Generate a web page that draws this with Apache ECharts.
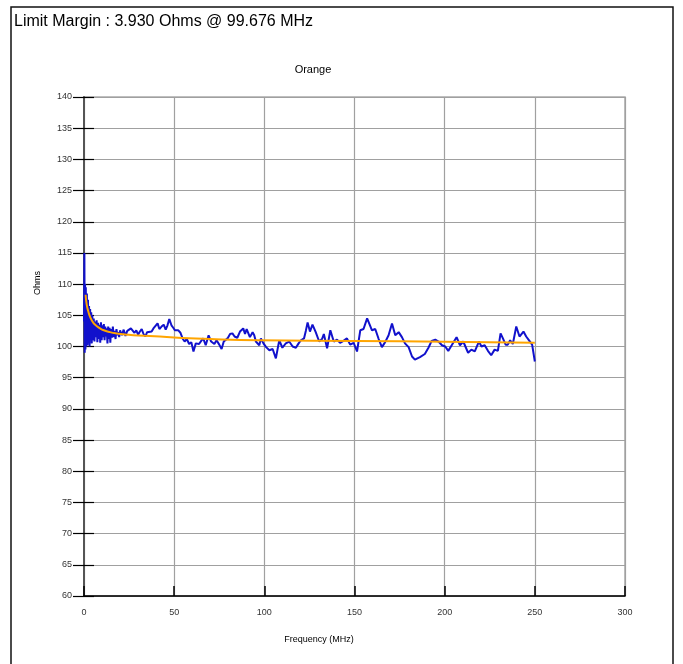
<!DOCTYPE html>
<html>
<head>
<meta charset="utf-8">
<script src="https://cdn.jsdelivr.net/npm/echarts@6/dist/echarts.min.js"></script>
<style>
html,body{margin:0;padding:0;background:#fff;}
#chart{width:683px;height:664px;}
</style>
</head>
<body>
<div id="chart"></div>
<script>
// ---- data ----
var titleText = 'Limit Margin : 3.930 Ohms @ 99.676 MHz';
var subTitle = 'Orange';
var xName = 'Frequency (MHz)';
var yName = 'Ohms';
var xTicks = [0, 50, 100, 150, 200, 250, 300];
var yTicks = [60, 65, 70, 75, 80, 85, 90, 95, 100, 105, 110, 115, 120, 125, 130, 135, 140];

var measFreq = [0.0,0.2,0.4,0.6,0.8,1.0,1.3,1.6,1.9,2.2,2.5,2.8,3.1,3.4,3.7,4.0,4.3,4.6,5.0,5.4,5.8,6.2,6.6,7.0,7.4,7.8,8.2,8.6,9.0,9.4,9.8,10.2,10.6,11.0,11.4,11.8,12.2,12.6,13.0,13.4,13.8,14.2,14.6,15.0,15.5,16.0,16.5,17.0,17.5,18.0,18.5,19.0,19.5,20.0,
21,22,23,24,25,26,27,28,29,30,31,32,33,34,35,36,37.5,38.5,39.3,40.8,41.8,43,44.2,45.3,46.3,47.3,48.5,49.5,50.4,51.5,52.3,53.5,54.8,55.8,57,58.3,59.5,60.7,62,63.8,65,66.1,67.5,69.1,70.5,72.3,73.5,75,76.3,77.5,79.6,81,82.3,83.5,85,86.5,88.3,89.3,90.2,92,93.5,94.4,95.3,97.2,98.1,99.5,101,102.8,104.6,106.4,107.3,108.3,110,111.9,113.8,115.7,117.5,119,120.3,122,123,124,125.3,126.7,128.5,130.4,132,133,134.8,136.6,138.5,140.3,142,143.9,145.8,147.6,149.5,151.4,153.2,155,157,158,159.7,161.5,163.4,165.2,167,168.9,170.8,172.6,174.5,176.3,178,180,181.9,183.5,184.6,186.3,189,191,192.8,194.8,196.6,198.5,200.3,202,203.9,206.6,208.5,210.3,213,214.8,216.7,219,220.4,222.2,224,225.8,227.7,229.5,231,232.3,233.8,235,236.3,237.8,239.7,241.5,243.7,245.2,247,248.5,250];
var measOhms = [104,115,99,110,99.5,109.5,100,108.5,100.2,107.5,100.5,106.5,100,106,101,105.5,100.5,105,101,104.5,100.8,104,101.5,104.2,100.7,103.8,101.2,103.5,100.6,103.9,101,103.4,101.5,103.6,101,103.2,101.6,102.9,100.5,103.2,101.2,103,100.6,102.8,101.4,103.2,101.5,102.5,101.2,102.8,101.8,102.3,101.5,102.6,
101.8,102.7,101.7,102.5,102.2,102.9,103.2,102.2,102.6,101.9,102.4,102.8,102.0,101.6,102.3,102.0,102.4,102.9,103.2,103.7,102.8,103.2,103.5,102.7,103.4,104.4,103.4,103.0,102.6,102.8,102.6,102.2,101.2,100.8,101.2,100.4,100.7,99.2,100.5,100.4,100.9,101.3,100.2,101.8,100.8,100.4,101,100.3,99.6,100.8,101.3,102,102.1,101.6,101.4,102.4,102.9,102.0,102.8,101.5,102.3,101.8,100.8,100.2,101.3,100.5,99.9,99.4,99.6,98.1,99.5,101.0,99.8,100.5,100.8,100.0,99.8,100.5,101.0,101.3,102.5,103.85,102.4,103.5,102.3,100.8,101.2,102.0,99.7,102.6,100.8,101.1,100.6,100.9,101.3,100.3,100.6,99.2,102.6,102.8,104.5,104.7,102.6,102.8,101.2,99.9,100.7,101.8,103.7,101.8,102.3,101.5,100.5,99.9,98.4,97.9,97.6,98.3,98.8,99.8,100.9,101.1,100.8,100.2,100.0,99.3,100.2,101.5,100.2,100.8,99.0,99.5,99.2,100.8,100.0,100.2,99.3,98.6,99.5,99.3,102.1,101.3,100.3,100.3,101.0,100.4,103.2,101.6,102.4,101.6,100.9,100.3,97.6];

var limitFreq = [0.9,1.5,2.4,3.3,5.2,7,8.9,11,14.4,18,23.7,30,42,50,70,97,150,200,250];
var limitOhms = [108.3,106.7,105.6,104.8,103.8,103.3,102.9,102.6,102.3,102.1,101.9,101.75,101.6,101.45,101.2,101.0,100.9,100.75,100.6];

var measData = measFreq.map(function (f, i) { return [f, measOhms[i]]; });
var limitData = limitFreq.map(function (f, i) { return [f, limitOhms[i]]; });

var FONT = 'Liberation Sans, Arial, sans-serif';
var chart = echarts.init(document.getElementById('chart'));
chart.setOption({
  animation: false,
  backgroundColor: '#ffffff',
  title: {
    text: titleText, left: 9, top: 9,
    textStyle: { fontSize: 16, fontWeight: 'normal', color: '#000', fontFamily: FONT }
  },
  grid: { left: 84, right: 58, top: 97, bottom: 68, show: true, borderColor: '#aaaaaa', borderWidth: 1.5 },
  xAxis: {
    type: 'value', min: xTicks[0], max: xTicks[xTicks.length - 1], interval: 50,
    axisLine: { onZero: false, lineStyle: { color: '#000', width: 1.5 } },
    axisTick: { inside: true, length: 10, lineStyle: { color: '#000', width: 1.5 } },
    axisLabel: { margin: 12, fontSize: 9, color: '#333', fontFamily: FONT },
    splitLine: { show: true, lineStyle: { color: '#a0a0a0', width: 1.2 } }
  },
  yAxis: [{
    type: 'value', min: yTicks[0], max: yTicks[yTicks.length - 1], interval: 5,
    axisLine: { onZero: false, lineStyle: { color: '#555', width: 2 } },
    axisTick: { inside: false, length: 11, lineStyle: { color: '#000', width: 1.2 } },
    axisLabel: { margin: 12, fontSize: 9, color: '#333', fontFamily: FONT },
    splitLine: { show: true, lineStyle: { color: '#a0a0a0', width: 1.2 } }
  }, {
    type: 'value', position: 'left', offset: 0,
    min: yTicks[0], max: yTicks[yTicks.length - 1], interval: 5,
    axisLine: { show: false },
    axisTick: { show: true, inside: true, length: 10, lineStyle: { color: '#000', width: 1.2 } },
    axisLabel: { show: false },
    splitLine: { show: false }
  }],
  series: [{
    type: 'line', data: measData, showSymbol: false, symbol: 'none',
    lineStyle: { color: '#1111cc', width: 2 }, z: 3
  }, {
    type: 'line', data: limitData, showSymbol: false, symbol: 'none', smooth: true,
    lineStyle: { color: '#ffa500', width: 2 }, z: 4
  }],
  graphic: [{
    type: 'rect', shape: { x: 11, y: 7, width: 662, height: 700 },
    style: { fill: 'none', stroke: '#111', lineWidth: 1.5 }, silent: true, z: 100
  }, {
    type: 'text', x: 313, y: 70,
    style: { text: subTitle, fontSize: 11, fill: '#000', fontFamily: FONT, textAlign: 'center', textVerticalAlign: 'middle' }
  }, {
    type: 'text', x: 38, y: 283, rotation: Math.PI / 2,
    style: { text: yName, fontSize: 9, fill: '#000', fontFamily: FONT, textAlign: 'center', textVerticalAlign: 'middle' }
  }, {
    type: 'text', x: 319, y: 640,
    style: { text: xName, fontSize: 9, fill: '#000', fontFamily: FONT, textAlign: 'center', textVerticalAlign: 'middle' }
  }]
});
</script>
</body>
</html>
